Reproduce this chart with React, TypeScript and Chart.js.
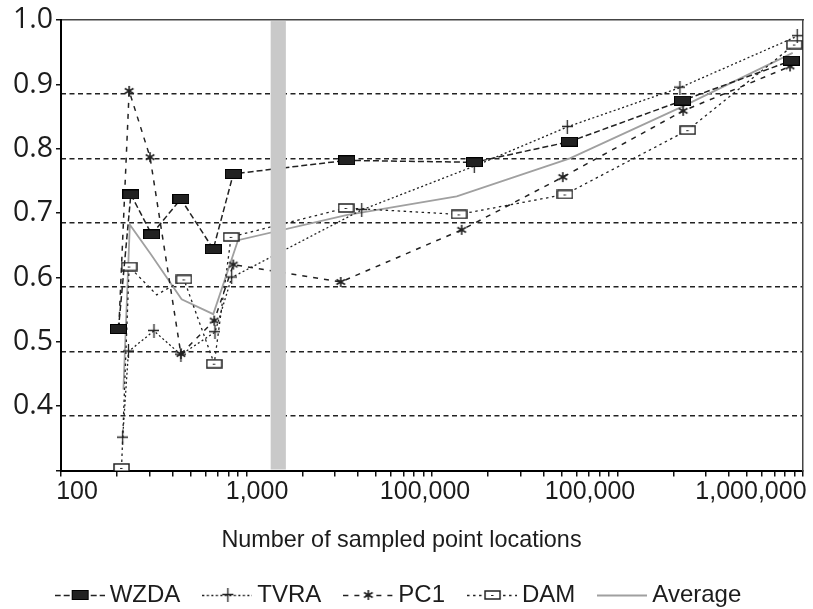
import React, { useEffect, useRef } from 'react';
import { Chart, registerables } from 'chart.js';

Chart.register(...registerables);

// ---------- data ----------
const SERIES_NAMES = ['WZDA', 'TVRA', 'PC1', 'DAM', 'Average'];

const WZDA_X = [204, 238, 308, 443, 662, 849, 3470, 16900, 55000, 224000, 865000];
const WZDA_Y = [0.520, 0.729, 0.667, 0.722, 0.644, 0.761, 0.782, 0.779, 0.811, 0.875, 0.937];

const TVRA_X = [215, 231, 317, 443, 676, 832, 4180, 16900, 53600, 217000, 931000];
const TVRA_Y = [0.351, 0.485, 0.517, 0.480, 0.515, 0.600, 0.705, 0.773, 0.834, 0.895, 0.975];

const PC1_X = [205, 233, 302, 443, 670, 849, 3220, 14450, 50700, 226000, 851000];
const PC1_Y = [0.522, 0.890, 0.787, 0.481, 0.533, 0.620, 0.593, 0.674, 0.756, 0.859, 0.928];

const DAM_X = [212, 233, 328, 460, 670, 826, 3440, 13990, 52100, 239000, 898000];
const DAM_Y = [0.304, 0.617, 0.573, 0.597, 0.466, 0.663, 0.708, 0.698, 0.729, 0.829, 0.962];
const DAM_MARKED = [true, true, false, true, true, true, true, true, true, true, true];

const AVG_X = [217, 235, 305, 447, 662, 900, 3450, 13600, 55400, 225000, 880000];
const AVG_Y = [0.426, 0.682, 0.636, 0.566, 0.543, 0.658, 0.697, 0.726, 0.785, 0.866, 0.949];

const X_MIN = 100;
const X_MAX = 1000000;
const X_DECADES = [100, 1000, 10000, 100000];
const X_MULTIPLIERS = [1, 2, 3, 4, 5, 6, 7, 8, 9];
const X_TICK_LABELS = ['100', '1,000', '100,000', '100,000', '1,000,000'];
const X_TICK_LABEL_AT = [122, 1140, 9170, 71100, 524000];
const X_TITLE = 'Number of sampled point locations';

const Y_MIN = 0.3;
const Y_MAX = 1.0;
const Y_TICKS = [0.3, 0.4, 0.5, 0.6, 0.7, 0.8, 0.9, 1.0];
const Y_TICK_LABELS = ['', '0.4', '0.5', '0.6', '0.7', '0.8', '0.9', '1.0'];
const GRID_Y = [0.385, 0.485, 0.585, 0.685, 0.785, 0.885];

const BAND_FROM = 1350;
const BAND_TO = 1630;

// ---------- styles ----------
const SANS = '"Liberation Sans", Arial, sans-serif';
const YFONT = '"Open Sans", "DejaVu Sans", sans-serif';
const INK = '#1c1c1c';

function makeCanvas(w: number, h: number, draw: (g: CanvasRenderingContext2D) => void) {
  const c = document.createElement('canvas');
  c.width = w;
  c.height = h;
  const g = c.getContext('2d') as CanvasRenderingContext2D;
  draw(g);
  return c;
}

function filledRect() {
  return makeCanvas(17, 10, (g) => {
    g.fillStyle = '#222';
    g.fillRect(0.5, 0.5, 16, 9);
    g.strokeStyle = '#000';
    g.lineWidth = 1;
    g.strokeRect(0.5, 0.5, 16, 9);
  });
}

function openRect() {
  return makeCanvas(17, 10, (g) => {
    g.fillStyle = '#fff';
    g.fillRect(1, 1, 15, 8);
    g.strokeStyle = '#222';
    g.lineWidth = 1.5;
    g.strokeRect(1, 1, 15, 8);
    g.lineWidth = 1;
    g.beginPath();
    g.moveTo(7, 5.5);
    g.lineTo(9.5, 5.5);
    g.stroke();
  });
}

function plusMark() {
  return makeCanvas(11, 14, (g) => {
    g.strokeStyle = '#222';
    g.lineWidth = 1.3;
    g.beginPath();
    g.moveTo(5.5, 0);
    g.lineTo(5.5, 14);
    g.moveTo(0, 6.5);
    g.lineTo(11, 6.5);
    g.stroke();
  });
}

function starMark() {
  return makeCanvas(12, 12, (g) => {
    g.strokeStyle = '#222';
    g.lineWidth = 1.6;
    g.beginPath();
    const r = 5;
    [90, 30, 150].forEach((deg) => {
      const a = (deg * Math.PI) / 180;
      g.moveTo(6 - r * Math.cos(a), 6 - r * Math.sin(a));
      g.lineTo(6 + r * Math.cos(a), 6 + r * Math.sin(a));
    });
    g.stroke();
  });
}

function legendImage(dash: number[], color: string, width: number, marker?: HTMLCanvasElement) {
  return makeCanvas(50, 16, (g) => {
    g.strokeStyle = color;
    g.lineWidth = width;
    g.setLineDash(dash);
    g.beginPath();
    g.moveTo(0, 8.5);
    g.lineTo(50, 8.5);
    g.stroke();
    g.setLineDash([]);
    if (marker) {
      g.drawImage(marker, Math.round(25 - marker.width / 2), Math.round(8 - marker.height / 2));
    }
  });
}

const pts = (xs: number[], ys: number[]) => xs.map((x, i) => ({ x, y: ys[i] }));

export default function App() {
  const ref = useRef<HTMLCanvasElement | null>(null);

  useEffect(() => {
    if (!ref.current) return;
    const mWZDA = filledRect();
    const mTVRA = plusMark();
    const mPC1 = starMark();
    const mDAM = openRect();

    const DASH_WZDA = [6, 3];
    const DASH_TVRA = [2, 2.5];
    const DASH_PC1 = [5, 6];
    const DASH_DAM = [2.5, 3.5];

    const legendImgs = [
      legendImage(DASH_WZDA, '#222', 1.5, mWZDA),
      legendImage(DASH_TVRA, '#222', 1.3, mTVRA),
      legendImage(DASH_PC1, '#222', 1.5, mPC1),
      legendImage(DASH_DAM, '#222', 1.3, mDAM),
      legendImage([], '#a0a0a0', 1.8),
    ];

    const minorTicks: number[] = [];
    X_DECADES.forEach((d) => X_MULTIPLIERS.forEach((m) => minorTicks.push(d * m)));
    minorTicks.push(X_MAX);

    const bandPlugin = {
      id: 'band',
      afterDatasetsDraw(chart: any) {
        const { ctx, chartArea, scales } = chart;
        const x1 = scales.x.getPixelForValue(BAND_FROM);
        const x2 = scales.x.getPixelForValue(BAND_TO);
        ctx.save();
        ctx.fillStyle = '#c9c9c9';
        ctx.fillRect(x1, chartArea.top + 1, x2 - x1, chartArea.bottom - chartArea.top - 2);
        ctx.restore();
      },
    };

    const common = { fill: false, tension: 0, xAxisID: 'x', yAxisID: 'y' };

    const chart = new Chart(ref.current, {
      type: 'line',
      data: {
        datasets: [
          {
            ...common,
            label: SERIES_NAMES[0],
            data: pts(WZDA_X, WZDA_Y),
            borderColor: '#222',
            borderWidth: 1.5,
            borderDash: DASH_WZDA,
            pointStyle: mWZDA,
            pointRadius: 5,
          },
          {
            ...common,
            label: SERIES_NAMES[1],
            data: pts(TVRA_X, TVRA_Y),
            borderColor: '#222',
            borderWidth: 1.3,
            borderDash: DASH_TVRA,
            pointStyle: mTVRA,
            pointRadius: 5,
          },
          {
            ...common,
            label: SERIES_NAMES[2],
            data: pts(PC1_X, PC1_Y),
            borderColor: '#222',
            borderWidth: 1.5,
            borderDash: DASH_PC1,
            pointStyle: mPC1,
            pointRadius: 5,
          },
          {
            ...common,
            label: SERIES_NAMES[3],
            data: pts(DAM_X, DAM_Y),
            borderColor: '#222',
            borderWidth: 1.3,
            borderDash: DASH_DAM,
            pointStyle: mDAM,
            pointRadius: DAM_MARKED.map((m) => (m ? 5 : 0)),
          },
          {
            ...common,
            label: SERIES_NAMES[4],
            data: pts(AVG_X, AVG_Y),
            borderColor: '#a0a0a0',
            borderWidth: 1.8,
            pointRadius: 0,
          },
        ] as any,
      },
      options: {
        animation: false,
        responsive: false,
        maintainAspectRatio: false,
        events: [],
        layout: { padding: { top: 19, right: 10, left: 0, bottom: 0 } },
        plugins: {
          tooltip: { enabled: false },
          legend: {
            position: 'bottom',
            title: {
              display: true,
              text: X_TITLE,
              color: INK,
              font: { family: SANS, size: 23.4, lineHeight: 1 },
              padding: { top: 22.8, bottom: 1.3 },
            },
            labels: {
              usePointStyle: true,
              pointStyleWidth: 36,
              padding: 29,
              color: INK,
              font: { family: SANS, size: 24 },
              generateLabels: () =>
                SERIES_NAMES.map((text, i) => ({
                  text,
                  pointStyle: legendImgs[i],
                  fillStyle: 'rgba(0,0,0,0)',
                  strokeStyle: 'rgba(0,0,0,0)',
                  lineWidth: 0,
                  hidden: false,
                  datasetIndex: i,
                  fontColor: INK,
                })),
            },
          },
        },
        scales: {
          x: {
            type: 'logarithmic',
            position: 'bottom',
            min: X_MIN,
            max: X_MAX,
            afterBuildTicks: (s: any) => {
              s.ticks = minorTicks.map((v) => ({ value: v }));
            },
            ticks: { display: false },
            grid: { display: true, drawOnChartArea: false, drawTicks: true, tickLength: 6, color: '#111', lineWidth: 1.5 },
            border: { display: true, color: '#000', width: 2 },
            afterFit: (s: any) => {
              s.height = 6;
            },
          },
          x2: {
            type: 'logarithmic',
            axis: 'x',
            position: 'bottom',
            min: X_MIN,
            max: X_MAX,
            afterBuildTicks: (s: any) => {
              s.ticks = X_TICK_LABEL_AT.map((v) => ({ value: v }));
            },
            ticks: {
              autoSkip: false,
              maxRotation: 0,
              minRotation: 0,
              padding: 3,
              color: INK,
              font: { family: SANS, size: 25, lineHeight: 1 },
              callback: (_v: any, i: number) => X_TICK_LABELS[i],
            },
            grid: { display: false, drawTicks: false },
            border: { display: false },
            afterFit: (s: any) => {
              s.height = 30;
            },
          },
          xTop: {
            type: 'linear',
            axis: 'x',
            position: 'top',
            min: 0,
            max: 1,
            ticks: { display: false },
            grid: { display: false, drawTicks: false },
            border: { display: true, color: '#444', width: 1.5 },
            afterFit: (s: any) => {
              s.height = 0;
            },
          },
          y: {
            type: 'linear',
            position: 'left',
            min: Y_MIN,
            max: Y_MAX,
            afterBuildTicks: (s: any) => {
              s.ticks = Y_TICKS.map((v) => ({ value: v }));
            },
            ticks: {
              padding: 3,
              color: INK,
              font: { family: YFONT, size: 28.5 },
              callback: (_v: any, i: number) => Y_TICK_LABELS[i],
            },
            grid: { display: true, drawOnChartArea: false, drawTicks: true, tickLength: 5, color: '#111', lineWidth: 1.5 },
            border: { display: true, color: '#000', width: 2 },
            afterFit: (s: any) => {
              s.width = 61;
            },
          },
          y2: {
            type: 'linear',
            axis: 'y',
            position: 'right',
            min: Y_MIN,
            max: Y_MAX,
            afterBuildTicks: (s: any) => {
              s.ticks = GRID_Y.map((v) => ({ value: v }));
            },
            ticks: { display: false },
            grid: { display: true, drawOnChartArea: true, drawTicks: false, color: '#222', lineWidth: 1.5 },
            border: { display: true, color: '#444', width: 1.5, dash: [5, 3.5] },
            afterFit: (s: any) => {
              s.width = 0;
            },
          },
        },
      } as any,
      plugins: [bandPlugin],
    });

    return () => chart.destroy();
  }, []);

  return (
    <div
      style={{
        position: 'fixed',
        left: 0,
        top: 0,
        width: 813,
        height: 609,
        overflow: 'hidden',
        background: '#fff',
      }}
    >
      <canvas ref={ref} width={813} height={617} style={{ display: 'block' }} />
    </div>
  );
}
